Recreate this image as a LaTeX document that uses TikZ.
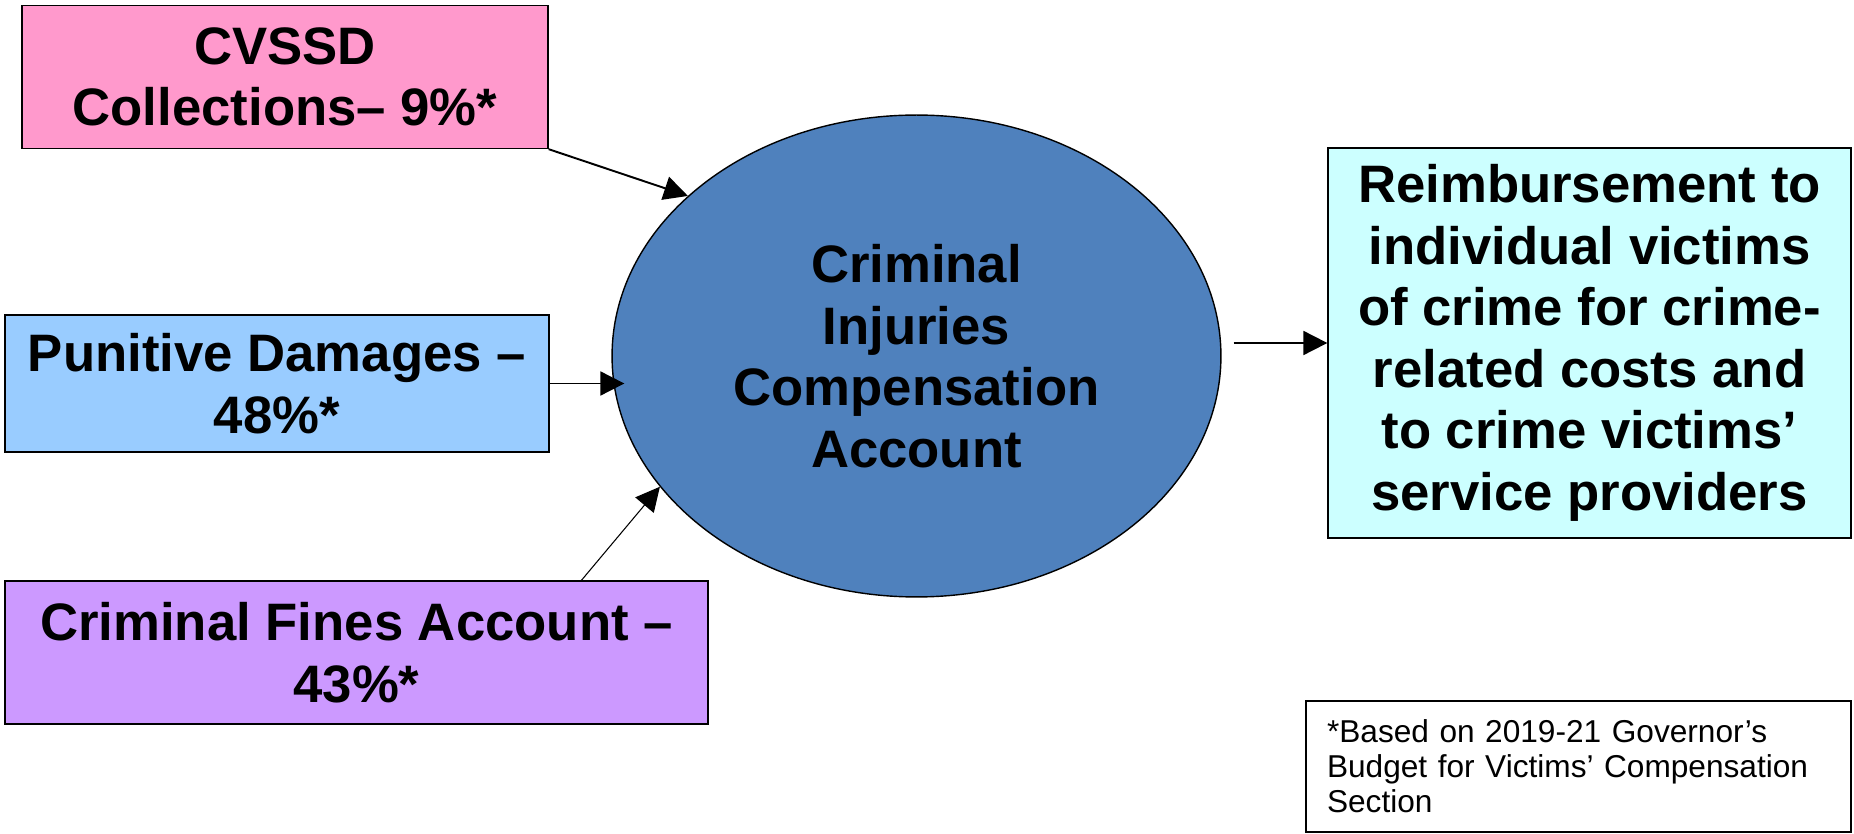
\documentclass[tikz,border=0pt]{standalone}
\usepackage{fontspec}
\setmainfont{Liberation Sans}
\usetikzlibrary{shapes.geometric,arrows.meta}
\definecolor{cvssdpink}{HTML}{FF99CC}
\definecolor{punblue}{HTML}{99CCFF}
\definecolor{finepurple}{HTML}{CC99FF}
\definecolor{acctblue}{HTML}{4F81BD}
\definecolor{reimbcyan}{HTML}{CCFFFF}
\begin{document}
\begin{tikzpicture}[
  x=0.02cm, y=-0.02cm,
  block/.style={rectangle, draw, line width=0.8pt, inner sep=0pt, align=center, font=\bfseries\fontsize{30}{35}\selectfont},
  feed/.style={-{Triangle[length=0.48cm,width=0.48cm]}, line width=1.1pt},
  font=\fontsize{18}{20}\selectfont
]
\useasboundingbox (0,0) rectangle (1854,834);
\node[block, fill=cvssdpink, minimum width=10.52cm, minimum height=2.86cm] (cvssd) at (285,77) {CVSSD\\Collections– 9\%*};
\node[block, fill=punblue, minimum width=10.88cm, minimum height=2.74cm] (punitive) at (277,383.5) {Punitive Damages –\\48\%*};
\node[block, fill=finepurple, minimum width=14.06cm, minimum height=2.86cm] (fines) at (356.5,652.5) {Criminal Fines Account –\\43\%*};
\node[block, ellipse, fill=acctblue, minimum width=12.18cm, minimum height=9.64cm] (cica) at (916.5,356) {Criminal\\Injuries\\Compensation\\Account};
\node[block, fill=reimbcyan, minimum width=10.46cm, minimum height=7.8cm] (reimb) at (1589.5,343) {Reimbursement to\\individual victims\\of crime for crime-\\related costs and\\to crime victims’\\service providers};
\node[draw, line width=0.8pt, inner xsep=0.42cm, inner ysep=0pt, text width=10.06cm, minimum height=2.62cm, align=left] (note) at (1578.5,766.5) {*Based on 2019-21 Governor’s\\Budget for Victims’ Compensation\\Section};

\draw[feed] (cvssd.south east) -- (cica.145);
\draw[feed, shorten >=-0.26cm] (punitive.east) -- (punitive.east -| cica.west);
\draw[feed, line width=0.6pt] ([xshift=4.5cm]fines.north) -- (cica.207);
\draw[feed, shorten <=0.24cm] (reimb.west -| cica.east) -- (reimb.west);
\end{tikzpicture}
\end{document}
